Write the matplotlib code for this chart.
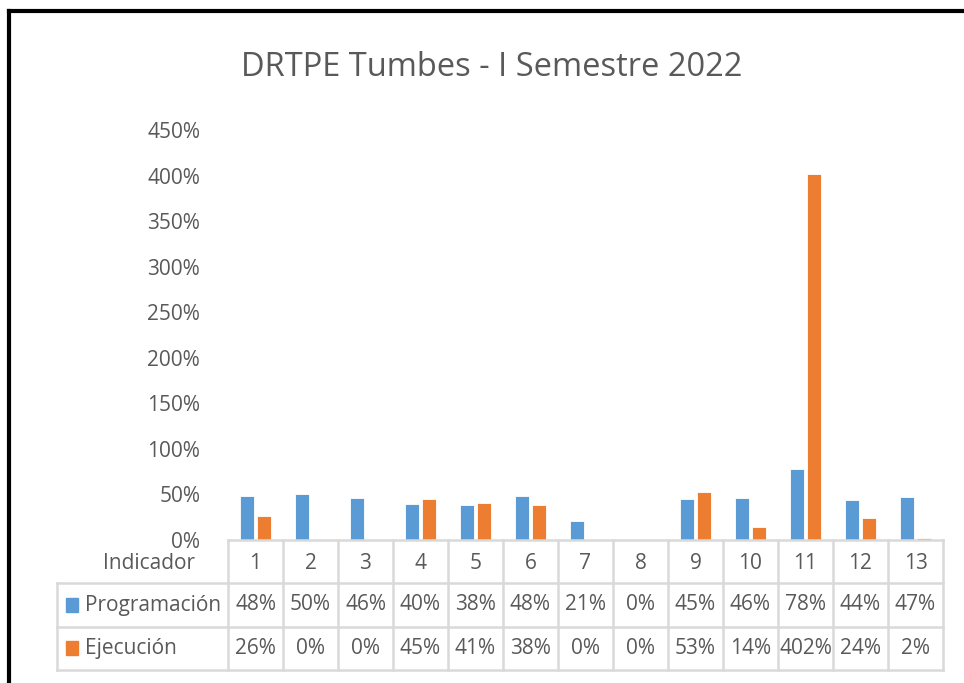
import numpy as np
import matplotlib.pyplot as plt
from matplotlib.lines import Line2D
from matplotlib.patches import Rectangle

plt.rcParams['font.family'] = ['Open Sans', 'DejaVu Sans']

# --- datos ---
titulo = "DRTPE Tumbes - I Semestre 2022"
indicadores = ["1", "2", "3", "4", "5", "6", "7", "8", "9", "10", "11", "12", "13"]
programacion = [0.48, 0.50, 0.46, 0.40, 0.38, 0.48, 0.21, 0.00, 0.45, 0.46, 0.78, 0.44, 0.47]
ejecucion = [0.26, 0.00, 0.00, 0.45, 0.41, 0.38, 0.00, 0.00, 0.53, 0.14, 4.02, 0.24, 0.02]
yticks = [0, 0.5, 1.0, 1.5, 2.0, 2.5, 3.0, 3.5, 4.0, 4.5]

c_prog = "#5B9BD5"
c_ejec = "#ED7D31"
c_text = "#595959"
c_grid = "#D9D9D9"

W, H = 964, 683
fig = plt.figure(figsize=(W / 100, H / 100), dpi=100)

def px(x0, y0, x1, y1):
    # caja en pixeles (origen arriba-izquierda) -> coords de figura
    return [x0 / W, 1 - y1 / H, (x1 - x0) / W, (y1 - y0) / H]

# --- grafico de barras ---
ax = fig.add_axes(px(228, 130, 943, 540))
x = np.arange(len(indicadores))
ax.bar(x - 0.155, programacion, width=0.24, color=c_prog, edgecolor="white", linewidth=0.6)
ax.bar(x + 0.155, ejecucion, width=0.24, color=c_ejec, edgecolor="white", linewidth=0.6)
ax.set_xlim(-0.5, len(indicadores) - 0.5)
ax.set_ylim(0, 4.5)
ax.set_yticks(yticks)
ax.set_yticklabels([f"{int(round(v * 100))}%" for v in yticks], fontsize=15, color=c_text)
ax.tick_params(axis="y", length=0, pad=20)
ax.set_xticks([])
for s in ax.spines.values():
    s.set_visible(False)

# --- tabla de datos ---
unit = 715 / len(indicadores)
lab_w = (228 - 57) / unit
tb = fig.add_axes(px(57, 540, 943, 670))
tb.set_xlim(-0.5 - lab_w, len(indicadores) - 0.5)
tb.set_ylim(3, 0)
tb.axis("off")

lw = 1.8
n = len(indicadores)
# lineas horizontales
tb.plot([-0.5, n - 0.5], [0, 0], color=c_grid, lw=lw, clip_on=False)
for yy in [1, 2, 3]:
    tb.plot([-0.5 - lab_w, n - 0.5], [yy, yy], color=c_grid, lw=lw, clip_on=False)
# lineas verticales
for i in range(n + 1):
    tb.plot([i - 0.5, i - 0.5], [0, 3], color=c_grid, lw=lw, clip_on=False)
tb.plot([-0.5 - lab_w] * 2, [1, 3], color=c_grid, lw=lw, clip_on=False)

tb.text(-0.5 - 0.6, 0.55, "Indicador", ha="right", va="center", fontsize=15, color=c_text)
for i, lab in enumerate(indicadores):
    tb.text(i, 0.55, lab, ha="center", va="center", fontsize=15, color=c_text)
    tb.text(i, 1.5, f"{int(round(programacion[i] * 100))}%", ha="center", va="center",
            fontsize=15, color=c_text)
    tb.text(i, 2.5, f"{int(round(ejecucion[i] * 100))}%", ha="center", va="center",
            fontsize=15, color=c_text)

for row, (nombre, col) in enumerate([("Programación", c_prog), ("Ejecución", c_ejec)]):
    yc = row + 1.5
    tb.add_patch(Rectangle((-0.5 - lab_w + 9 / unit, yc - 0.16), 12 / unit, 0.32,
                           color=col, clip_on=False))
    tb.text(-0.5 - lab_w + 28 / unit, yc, nombre, ha="left", va="center",
            fontsize=15, color=c_text)

# --- titulo y marco ---
fig.text(492 / W, 1 - 68 / H, titulo, ha="center", va="center", fontsize=23.5, color=c_text)
fig.add_artist(Line2D([9 / W, 1], [1 - 11 / H] * 2, color="black", lw=3, transform=fig.transFigure))
fig.add_artist(Line2D([9 / W] * 2, [0, 1 - 11 / H], color="black", lw=3, transform=fig.transFigure))

fig.savefig("out.png", dpi=100)
